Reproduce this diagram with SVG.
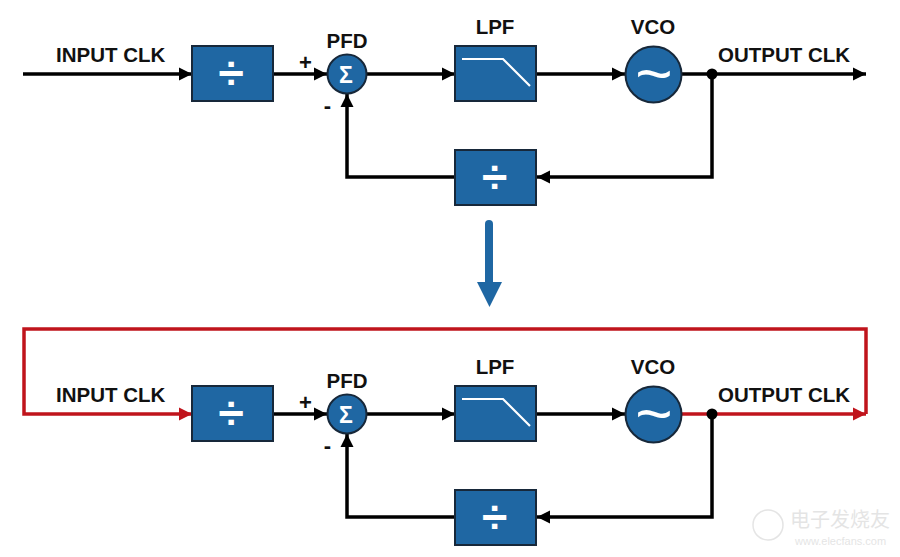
<svg xmlns="http://www.w3.org/2000/svg" width="900" height="557" viewBox="0 0 900 557">
<defs>
<style>
.lbl{font-family:"Liberation Sans",Arial,sans-serif;font-weight:bold;font-size:20.5px;fill:#111}
.sgn{font-family:"Liberation Sans",Arial,sans-serif;font-weight:bold;font-size:22px;fill:#111}
.blk{fill:#1f67a3;stroke:#17283a;stroke-width:2}
.sym{font-family:"Liberation Sans",Arial,sans-serif;font-weight:bold;fill:#fff;text-anchor:middle}
.til{font-family:"Liberation Sans",Arial,sans-serif;font-weight:normal;font-size:64px;fill:#fff;text-anchor:middle}
.w{fill:none;stroke:#000;stroke-width:3.5}
.r{fill:none;stroke:#c0141c;stroke-width:3.5}
</style>
<marker id="ah" markerUnits="userSpaceOnUse" markerWidth="14" markerHeight="14" viewBox="0 0 14 14" refX="13" refY="7" orient="auto"><path d="M0,0.5 L13,7 L0,13.5 Z" fill="#000"/></marker>
<marker id="ahr" markerUnits="userSpaceOnUse" markerWidth="14" markerHeight="14" viewBox="0 0 14 14" refX="13" refY="7" orient="auto"><path d="M0,0.5 L13,7 L0,13.5 Z" fill="#c0141c"/></marker>
</defs>
<rect width="900" height="557" fill="#fff"/>

<g id="connectors">
<line class="w" x1="23" y1="74" x2="192" y2="74" marker-end="url(#ah)"/>
<line class="w" x1="273" y1="74" x2="327" y2="74" marker-end="url(#ah)"/>
<line class="w" x1="366" y1="74" x2="455" y2="74" marker-end="url(#ah)"/>
<line class="w" x1="536" y1="74" x2="625" y2="74" marker-end="url(#ah)"/>
<line class="w" x1="682" y1="74" x2="866" y2="74" marker-end="url(#ah)"/>
<polyline class="w" points="712,74 712,177 537,177" marker-end="url(#ah)"/>
<polyline class="w" points="455,177 347,177 347,94" marker-end="url(#ah)"/>
<circle cx="712" cy="74" r="5.5" fill="#000"/>
<polyline class="r" points="866,414 866,329 24,329 24,414 192,414" marker-end="url(#ahr)"/>
<line class="w" x1="273" y1="414" x2="327" y2="414" marker-end="url(#ah)"/>
<line class="w" x1="366" y1="414" x2="455" y2="414" marker-end="url(#ah)"/>
<line class="w" x1="536" y1="414" x2="625" y2="414" marker-end="url(#ah)"/>
<line class="r" x1="682" y1="414" x2="866" y2="414" marker-end="url(#ahr)"/>
<polyline class="w" points="712,414 712,517 537,517" marker-end="url(#ah)"/>
<polyline class="w" points="455,517 347,517 347,434" marker-end="url(#ah)"/>
<circle cx="712" cy="414" r="5.5" fill="#000"/>
</g>

<g id="labels-top">
<text class="lbl" x="56" y="62">INPUT CLK</text>
<text class="lbl" x="718" y="62">OUTPUT CLK</text>
<text class="lbl" x="347" y="48" text-anchor="middle">PFD</text>
<text class="lbl" x="495" y="34" text-anchor="middle">LPF</text>
<text class="lbl" x="653" y="34" text-anchor="middle">VCO</text>
<text class="sgn" x="305.5" y="70" text-anchor="middle">+</text>
<text class="sgn" x="327.5" y="113" text-anchor="middle">-</text>
</g>
<g id="labels-bottom">
<text class="lbl" x="56" y="402">INPUT CLK</text>
<text class="lbl" x="718" y="402">OUTPUT CLK</text>
<text class="lbl" x="347" y="388" text-anchor="middle">PFD</text>
<text class="lbl" x="495" y="374" text-anchor="middle">LPF</text>
<text class="lbl" x="653" y="374" text-anchor="middle">VCO</text>
<text class="sgn" x="305.5" y="410" text-anchor="middle">+</text>
<text class="sgn" x="327.5" y="453" text-anchor="middle">-</text>
</g>

<g id="div-in-top"><rect class="blk" x="192" y="46" width="81" height="55"/><text class="sym" x="231" y="89" font-size="46">÷</text></g>
<g id="pfd-top"><circle class="blk" cx="347" cy="74" r="19.5"/><text class="sym" x="346" y="82.5" font-size="23">Σ</text></g>
<g id="lpf-top"><rect class="blk" x="455" y="46" width="81" height="55"/><polyline points="462,59 503,59 530,86" fill="none" stroke="#fff" stroke-width="2.2"/></g>
<g id="vco-top"><circle class="blk" cx="653.5" cy="74.5" r="28"/><text class="til" x="654" y="96">~</text></g>
<g id="div-fb-top"><rect class="blk" x="455" y="150" width="81" height="55"/><text class="sym" x="494.5" y="193" font-size="46">÷</text></g>

<g id="down-arrow">
<line x1="489" y1="224" x2="489" y2="286" stroke="#1f67a3" stroke-width="8" stroke-linecap="round"/>
<path d="M477,282 L502,282 L489.5,307 Z" fill="#1f67a3"/>
</g>

<g id="div-in-bot"><rect class="blk" x="192" y="386" width="81" height="55"/><text class="sym" x="231" y="429" font-size="46">÷</text></g>
<g id="pfd-bot"><circle class="blk" cx="347" cy="414" r="19.5"/><text class="sym" x="346" y="422.5" font-size="23">Σ</text></g>
<g id="lpf-bot"><rect class="blk" x="455" y="386" width="81" height="55"/><polyline points="462,399 503,399 530,426" fill="none" stroke="#fff" stroke-width="2.2"/></g>
<g id="vco-bot"><circle class="blk" cx="653.5" cy="414.5" r="28"/><text class="til" x="654" y="436">~</text></g>
<g id="div-fb-bot"><rect class="blk" x="455" y="490" width="81" height="55"/><text class="sym" x="494.5" y="533" font-size="46">÷</text></g>

<g id="watermark" opacity="0.55">
<circle cx="768" cy="525" r="15" fill="none" stroke="#cfcfcf" stroke-width="1.5"/>
<text x="790" y="527" font-family="'Noto Sans CJK SC',sans-serif" font-size="20" fill="#cfcfcf">电子发烧友</text>
<text x="795" y="545" font-family="'Liberation Sans',sans-serif" font-size="11" fill="#cfcfcf">www.elecfans.com</text>
</g>
</svg>
